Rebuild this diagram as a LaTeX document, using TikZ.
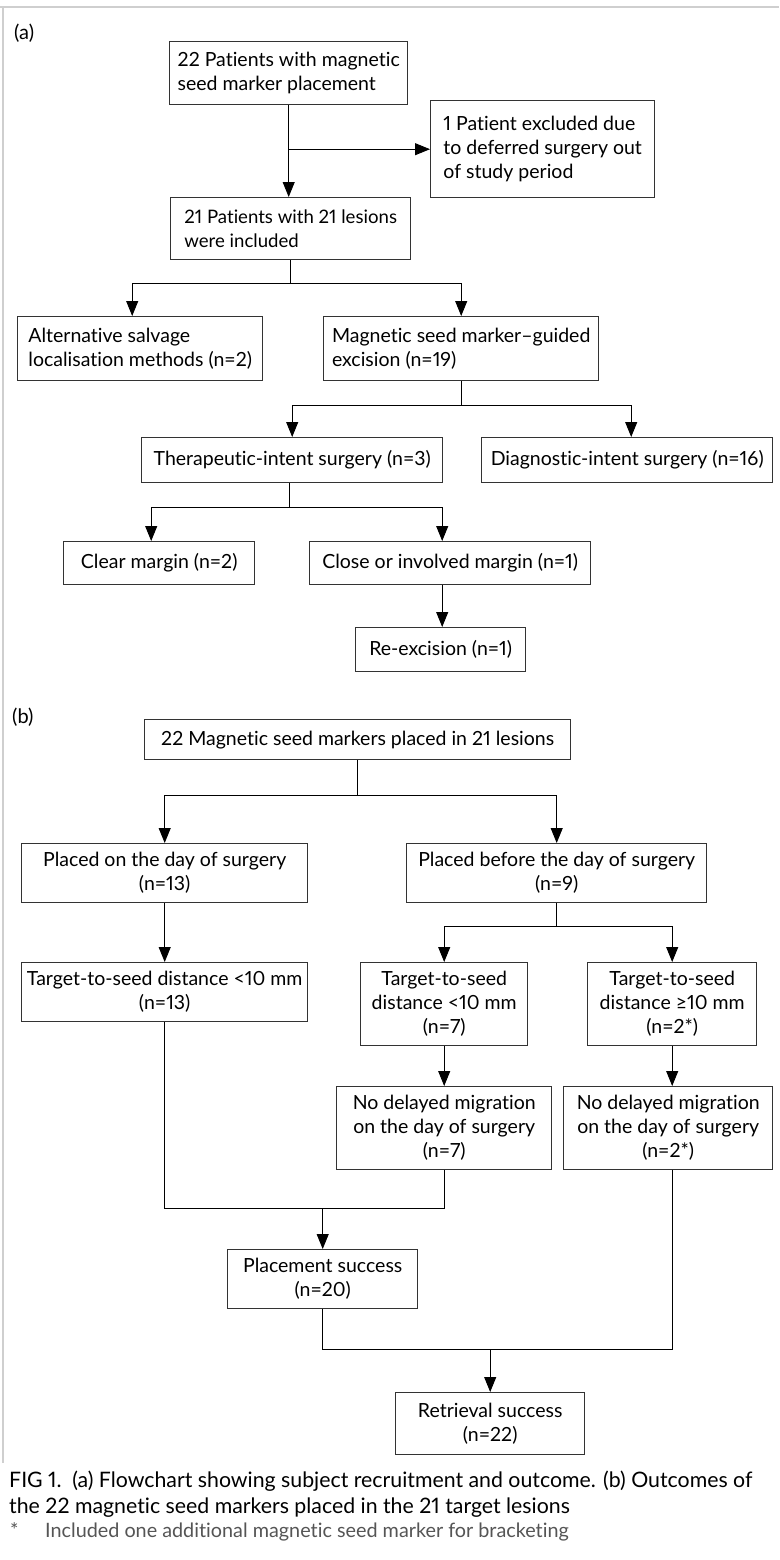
\documentclass[tikz,border=0pt]{standalone}
\usepackage{fontspec}
\setmainfont{Lato}[Numbers=Proportional, Ligatures=NoCommon]
\usetikzlibrary{arrows.meta,calc}
\definecolor{boxline}{HTML}{333333}
\definecolor{framegray}{HTML}{CFCFCF}
\definecolor{notegray}{HTML}{555555}
\begin{document}
\begin{tikzpicture}[x=1pt,y=-1pt,
  bx/.style={draw=boxline, line width=1.4pt, inner sep=0pt, anchor=north west,
             font=\fontsize{19.5}{24}\selectfont},
  bl/.style={bx, align=left},
  bc/.style={bx, align=center},
  ln/.style={draw=black, line width=0.9pt},
  arr/.style={ln, -{Triangle[length=15pt,width=12pt]}},
  lab/.style={font=\fontsize{20}{22}\selectfont, anchor=west, inner sep=0pt},
  captxt/.style={font=\fontsize{21.3}{26}\selectfont, anchor=base west, inner sep=0pt},
  notetxt/.style={font=\fontsize{19.8}{22}\selectfont, anchor=base west, inner sep=0pt, text=notegray}]
\useasboundingbox (0,0) rectangle (779,1560);
\fill[white] (0,0) rectangle (779,1560);
\draw[framegray, line width=1.5pt] (0,7) -- (779,7);
\draw[framegray, line width=1.5pt] (3,7) -- (3,1463);

% ---------- (a) ----------
\node[lab] (la) at (14,33) {(a)};
\node[bl, minimum width=238pt, minimum height=63pt] (p22) at (169,41)
  {22 Patients with magnetic\\seed marker placement};
\node[bl, minimum width=224pt, minimum height=97pt] (excl) at (430,100)
  {1 Patient excluded due\\to deferred surgery out\\of study period};
\node[bl, minimum width=240pt, minimum height=62pt, font=\fontsize{18.6}{24}\selectfont] (p21) at (170,197)
  {21 Patients with 21 lesions\\were included};
\node[bl, minimum width=245pt, minimum height=64pt] (alt) at (17,316)
  {Alternative salvage\\localisation methods (n=2)};
\node[bl, minimum width=275pt, minimum height=64pt] (mag) at (323,316)
  {Magnetic seed marker--guided\\excision (n=19)};
\node[bc, minimum width=301pt, minimum height=45pt] (ther) at (141,437)
  {Therapeutic-intent surgery (n=3)};
\node[bc, minimum width=291pt, minimum height=45pt] (diag) at (481,437)
  {Diagnostic-intent surgery (n=16)};
\node[bc, minimum width=191pt, minimum height=43pt] (clear) at (63,541)
  {Clear margin (n=2)};
\node[bc, minimum width=281pt, minimum height=43pt] (close) at (309,541)
  {Close or involved margin (n=1)};
\node[bc, minimum width=170pt, minimum height=44pt] (reex) at (355,627)
  {Re-excision (n=1)};

\draw[arr] (p22.south) -- (p22.south |- p21.north);
\draw[arr] (p22.south |- excl.west) -- (excl.west);
\draw[ln] (p21.south) -- ++(0,23) coordinate (j1);
\draw[arr] (j1) -| ([xshift=-8pt]alt.north);
\draw[arr] (j1) -| (mag.north);
\draw[ln] (mag.south) -- ++(0,24) coordinate (j2);
\draw[arr] (j2) -| (ther.north);
\draw[arr] (j2) -| ([xshift=4pt]diag.north);
\draw[ln] ([xshift=-3pt]ther.south) -- ++(0,24) coordinate (j3);
\draw[arr] (j3) -| ([xshift=-8pt]clear.north);
\draw[arr] (j3) -| ([xshift=-8pt]close.north);
\draw[arr] ([xshift=-8pt]close.south) -- ([xshift=-8pt]close.south |- reex.north);

% ---------- (b) ----------
\node[lab] (lb) at (12,717) {(b)};
\node[bc, minimum width=426pt, minimum height=40pt] (b1) at (144,719)
  {22 Magnetic seed markers placed in 21 lesions};
\node[bc, minimum width=286pt, minimum height=59pt] (bon) at (21,843)
  {Placed on the day of surgery\\(n=13)};
\node[bc, minimum width=300pt, minimum height=59pt] (bbef) at (406,843)
  {Placed before the day of surgery\\(n=9)};
\node[bc, minimum width=286pt, minimum height=59pt] (tl) at (21,962)
  {Target-to-seed distance <10 mm\\(n=13)};
\node[bc, minimum width=167pt, minimum height=83pt] (tm) at (360,962)
  {Target-to-seed\\distance <10 mm\\(n=7)};
\node[bc, minimum width=169pt, minimum height=83pt] (tr) at (587,962)
  {Target-to-seed\\distance ≥10 mm\\(n=2*)};
\node[bc, minimum width=215pt, minimum height=83pt] (nm) at (336,1086)
  {No delayed migration\\on the day of surgery\\(n=7)};
\node[bc, minimum width=209pt, minimum height=83pt] (nr) at (563,1086)
  {No delayed migration\\on the day of surgery\\(n=2*)};
\node[bc, minimum width=190pt, minimum height=59pt] (ps) at (227,1249)
  {Placement success\\(n=20)};
\node[bc, minimum width=189pt, minimum height=62pt] (rs) at (395,1392)
  {Retrieval success\\(n=22)};

\draw[ln] (b1.south) -- ++(0,35) coordinate (k1);
\draw[arr] (k1) -| (bon.north);
\draw[arr] (k1) -| (bbef.north);
\draw[arr] (bon.south) -- (tl.north);
\draw[ln] (bbef.south) -- ++(0,23) coordinate (k2);
\draw[arr] (k2) -| (tm.north);
\draw[arr] (k2) -| (tr.north);
\draw[arr] (tm.south) -- (tm.south |- nm.north);
\draw[arr] (tr.south) -- (tr.south |- nr.north);
\coordinate (m1) at ($(tm.south |- nm.south)+(0,38)$);
\draw[ln] (tl.south) |- (m1) -- (tm.south |- nm.south);
\draw[arr] (ps.north |- m1) -- (ps.north);
\coordinate (m2) at ($(ps.south)+(0,40)$);
\draw[ln] (ps.south) |- (tr.south |- m2) -- (tr.south |- nr.south);
\draw[arr] (rs.north |- m2) -- (rs.north);

% ---------- caption ----------
\node[captxt] (c1) at (9,1487)
  {FIG 1.\enspace (a) Flowchart showing subject recruitment and outcome. (b) Outcomes of};
\node[captxt] (c2) at (9,1513)
  {the 22 magnetic seed markers placed in the 21 target lesions};
\node[notetxt] (n0) at (10,1537) {*};
\node[notetxt] (n1) at (45,1537) {Included one additional magnetic seed marker for bracketing};
\end{tikzpicture}
\end{document}
